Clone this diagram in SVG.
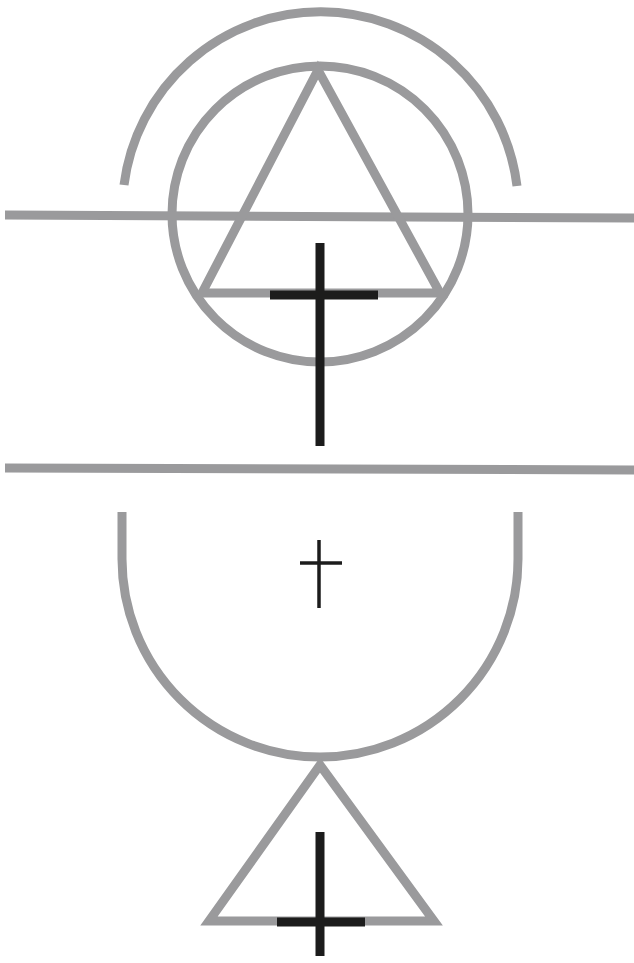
<svg xmlns="http://www.w3.org/2000/svg" width="634" height="963" viewBox="0 0 634 963">
<style>
.g{fill:none;stroke:#9a9a9c;stroke-width:9}
.k{fill:none;stroke:#1c1c1c;stroke-width:9}
.ks{fill:none;stroke:#1c1c1c;stroke-width:3.5}
</style>
<rect width="634" height="963" fill="#fff"/>
<g id="upper">
<path class="g" d="M124,185 A198,198 0 0 1 517,186"/>
<circle class="g" cx="320" cy="214" r="148"/>
<line class="g" x1="5" y1="215" x2="634" y2="218"/>
<path class="g" d="M318,70 L202,293 L440,293 Z" stroke-linejoin="miter"/>
<line class="k" x1="320" y1="243" x2="320" y2="446"/>
<line class="k" x1="270" y1="295" x2="378" y2="295"/>
</g>
<line class="g" x1="5" y1="468" x2="634" y2="470"/>
<g id="lower">
<path class="g" d="M122,512 L122,559 A198,198 0 0 0 518,559 L518,512"/>
<line class="ks" x1="319" y1="540" x2="319" y2="608"/>
<line class="ks" x1="300" y1="563" x2="342" y2="563"/>
<path class="g" d="M320,765 L209,921 L434,921 Z"/>
<line class="k" x1="320" y1="832" x2="320" y2="956"/>
<line class="k" x1="277" y1="922" x2="365" y2="922"/>
</g>
</svg>
